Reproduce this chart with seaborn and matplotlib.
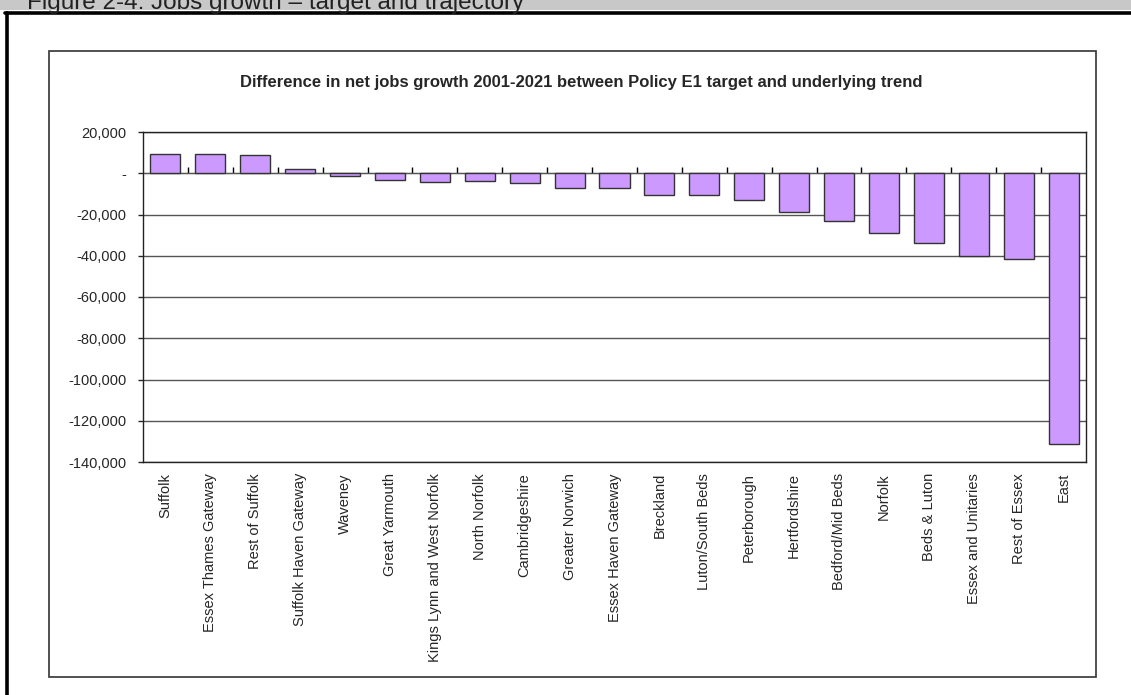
import matplotlib
matplotlib.use('Agg')
import matplotlib.pyplot as plt
import matplotlib.ticker as mticker
from matplotlib.patches import Rectangle
from matplotlib.lines import Line2D
import seaborn as sns

areas = ['Suffolk', 'Essex Thames Gateway', 'Rest of Suffolk', 'Suffolk Haven Gateway',
         'Waveney', 'Great Yarmouth', 'Kings Lynn and West Norfolk', 'North Norfolk',
         'Cambridgeshire', 'Greater Norwich', 'Essex Haven Gateway', 'Breckland',
         'Luton/South Beds', 'Peterborough', 'Hertfordshire', 'Bedford/Mid Beds',
         'Norfolk', 'Beds & Luton', 'Essex and Unitaries', 'Rest of Essex', 'East']
difference = [9200, 9200, 8700, 2300, -1100, -3400, -4000, -3900, -4500, -7100,
              -7100, -10500, -10500, -13100, -19000, -23100, -29000, -34000,
              -40000, -41600, -131400]
y_ticks = list(range(-140000, 20001, 20000))

title = 'Difference in net jobs growth 2001-2021 between Policy E1 target and underlying trend'
caption = 'Figure 2-4: Jobs growth \u2013 target and trajectory'

sns.set_style('white')
plt.rcParams['font.family'] = ['Liberation Sans', 'DejaVu Sans']

W, H = 1131, 695
fig = plt.figure(figsize=(W / 100, H / 100), dpi=100)

# page furniture: grey caption band (caption runs off the top edge), thick frame, chart box
fig.add_artist(Rectangle((0, 1 - 10 / H), 1, 10 / H, transform=fig.transFigure,
                         facecolor='#c8c8c8', edgecolor='none'))
fig.text(27 / W, 1 - 8.5 / H, caption, fontsize=17.5, va='baseline', ha='left', color='#222222')
fig.add_artist(Line2D([5 / W, 1], [1 - 12.5 / H] * 2, transform=fig.transFigure,
                      color='black', lw=2.6))
fig.add_artist(Line2D([7 / W] * 2, [0, 1 - 12.5 / H], transform=fig.transFigure,
                      color='black', lw=2.6))
fig.add_artist(Rectangle((49 / W, 1 - 677 / H), (1096 - 49) / W, (677 - 51) / H,
                         transform=fig.transFigure, fill=False, edgecolor='#333333', lw=1.2))
fig.text(581 / W, 1 - 82 / H, title, fontsize=12, fontweight='bold', ha='center', va='center')

ax = fig.add_axes([143 / W, 1 - 462 / H, (1086 - 143) / W, (462 - 132) / H])
sns.barplot(x=areas, y=difference, color='#CC99FF', edgecolor='#333333',
            linewidth=1, width=0.67, saturation=1, ax=ax, zorder=3)

ax.set_ylim(y_ticks[0], y_ticks[-1])
ax.set_xlim(-0.5, len(areas) - 0.5)
ax.set_yticks(y_ticks)
ax.yaxis.set_major_formatter(mticker.FuncFormatter(lambda v, p: '-' if v == 0 else f'{v:,.0f}'))
ax.yaxis.grid(True, color='#555555', lw=1)
ax.set_axisbelow(True)
for s in ax.spines.values():
    s.set_visible(True)
    s.set_color('#222222')
    s.set_linewidth(1)
ax.tick_params(axis='y', left=True, length=3.6, width=1, direction='out', labelsize=10.5, pad=8.5)
ax.tick_params(axis='x', bottom=False, length=0, labelsize=10.5, pad=8, labelrotation=90)
ax.set_xlabel('')
ax.set_ylabel('')

# category axis line crosses at zero, with tick marks between categories
zero_pos = (0 - y_ticks[0]) / (y_ticks[-1] - y_ticks[0])
sec = ax.secondary_xaxis(zero_pos)
sec.set_xticks([i + 0.5 for i in range(len(areas) - 1)])
sec.set_xticklabels([])
sec.tick_params(direction='out', length=4, width=1, color='black')
sec.spines['bottom'].set_color('black')
sec.spines['bottom'].set_linewidth(1.2)

fig.savefig('out.png', dpi=100)
